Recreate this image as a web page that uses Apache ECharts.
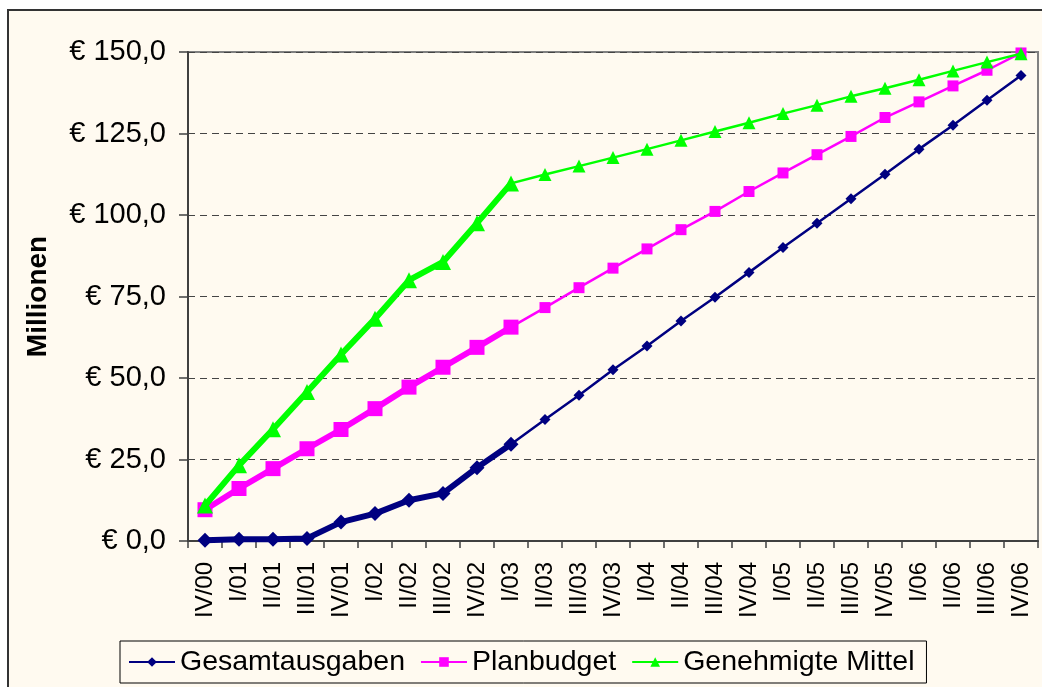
<!DOCTYPE html>
<html>
<head>
<meta charset="utf-8">
<script src="https://cdn.jsdelivr.net/npm/echarts@6/dist/echarts.min.js"></script>
<style>
html,body{margin:0;padding:0;background:#ffffff;}
#chart{width:1042px;height:687px;}
</style>
</head>
<body>
<div id="chart"></div>
<script>
const categories = ['IV/00','I/01','II/01','III/01','IV/01','I/02','II/02','III/02','IV/02','I/03','II/03','III/03','IV/03','I/04','II/04','III/04','IV/04','I/05','II/05','III/05','IV/05','I/06','II/06','III/06','IV/06'];
const gesamtausgaben = [0.2,0.5,0.5,0.8,5.8,8.4,12.5,14.6,22.5,29.7,37.3,44.7,52.5,59.8,67.5,74.8,82.4,90.0,97.5,105.0,112.5,120.2,127.5,135.2,142.8];
const planbudget = [9.6,16.1,22.2,28.3,34.2,40.6,47.2,53.3,59.4,65.6,71.6,77.7,83.7,89.6,95.5,101.1,107.2,112.9,118.5,124.1,129.9,134.7,139.6,144.4,149.7];
const genehmigteMittel = [10.9,23.2,34.3,45.7,57.2,68.2,80.0,85.6,97.5,109.7,112.4,115.0,117.6,120.2,122.9,125.6,128.3,131.1,133.7,136.4,138.9,141.5,144.2,146.9,149.5];
const seriesNames = ['Gesamtausgaben','Planbudget','Genehmigte Mittel'];
const yTicks = [0,25,50,75,100,125,150];
const lastThickIndex = 9; // I/03

const colors = ['#000080','#FF00FF','#00FF00'];
const symbols = ['diamond','rect','triangle'];
const thinSizes = [11,11,13];
const thickSizes = [15,15,16];
const allData = [gesamtausgaben, planbudget, genehmigteMittel];

function thickPart(arr){ return arr.map((v,i)=> i<=lastThickIndex ? v : '-'); }
function thinPart(arr){ return arr.map((v,i)=> i<lastThickIndex ? '-' : (i===lastThickIndex ? {value:v, symbolSize:0} : v)); }

const series = [];
allData.forEach((arr,k)=>{
  series.push({
    name: seriesNames[k], type:'line', data: thinPart(arr),
    symbol: symbols[k], symbolSize: thinSizes[k], showAllSymbol:true,
    lineStyle:{color:colors[k], width:2.5}, itemStyle:{color:colors[k]},
    connectNulls:false, z: 2+k*2, animation:false
  });
  series.push({
    name: seriesNames[k]+' (thick)', type:'line', data: thickPart(arr),
    symbol: symbols[k], symbolSize: thickSizes[k], showAllSymbol:true,
    lineStyle:{color:colors[k], width:6}, itemStyle:{color:colors[k]},
    z: 3+k*2, animation:false
  });
});

const chart = echarts.init(document.getElementById('chart'), null, {renderer:'canvas'});
chart.setOption({
  animation:false,
  backgroundColor:'#ffffff',
  graphic:[{
    type:'rect', z:-10, silent:true,
    shape:{x:8, y:10, width:1100, height:720},
    style:{fill:'#FFFAF0', stroke:'#333333', lineWidth:2}
  }],
  grid:{left:188, right:4, top:52, bottom:146, show:true, borderColor:'#808080', borderWidth:2, backgroundColor:'transparent'},
  legend:{
    data: seriesNames,
    left:120, top:641,
    padding:[6,12,6,8],
    borderColor:'#000000', borderWidth:1,
    itemWidth:46, itemHeight:12, itemGap:15,
    textStyle:{fontFamily:'Liberation Sans, Arial, sans-serif', fontSize:28.5, color:'#000', lineHeight:30}
  },
  xAxis:{
    type:'category', data:categories, boundaryGap:true,
    axisLine:{lineStyle:{color:'#404040', width:2}},
    axisTick:{show:true, length:7, lineStyle:{color:'#404040', width:1.5}},
    axisLabel:{rotate:90, interval:0, margin:21, fontFamily:'Liberation Sans, Arial, sans-serif', fontSize:24, color:'#000'}
  },
  yAxis:{
    type:'value', min:0, max:150, interval:25,
    name:'Millionen', nameLocation:'middle', nameRotate:90, nameGap:136,
    nameTextStyle:{fontFamily:'Liberation Sans, Arial, sans-serif', fontSize:28, fontWeight:'bold', color:'#000'},
    axisLine:{show:true, lineStyle:{color:'#404040', width:2}},
    axisTick:{show:true, length:9, lineStyle:{color:'#404040', width:1.5}},
    axisLabel:{margin:22, fontFamily:'Liberation Sans, Arial, sans-serif', fontSize:29, color:'#000',
      formatter:(v)=> yTicks.includes(v) ? '€ ' + v.toFixed(1).replace('.', ',') : ''},
    splitLine:{show:true, lineStyle:{color:'#444444', width:1, type:[7,5]}}
  },
  series: series
});
</script>
</body>
</html>
